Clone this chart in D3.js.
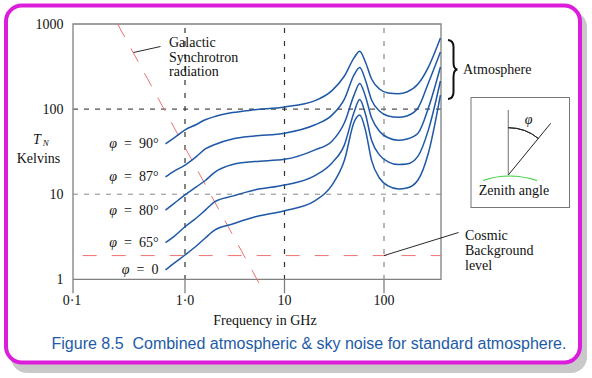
<!DOCTYPE html>
<html>
<head>
<meta charset="utf-8">
<script src="https://cdn.jsdelivr.net/npm/d3@7"></script>
<style>
  html, body { margin: 0; padding: 0; background: #fff; }
  svg { display: block; }
  .serif { font-family: "Liberation Serif", "Times New Roman", serif; font-size: 14px; fill: #111; }
</style>
</head>
<body>
<svg id="chart" width="592" height="378"></svg>
<script>
// frequencies (GHz) the curves were read at
var freqs = [0.67, 0.8, 1, 1.3, 1.6, 2, 3, 5, 10, 20, 30, 40, 50, 57, 65, 75, 90, 110, 140, 170, 220, 280, 370];

// sky noise temperature (K) for each zenith angle
var t90 = [39, 46, 57, 66, 75, 82, 91, 98, 106, 125, 165, 245, 400, 480, 358, 226, 172, 155, 152, 159, 197, 312, 685];
var t87 = [16, 18.7, 22, 27.7, 34, 38.4, 44.5, 48.3, 52, 65, 85, 131, 252, 308, 220, 128, 95, 83, 80, 83, 103, 203, 469];
var t80 = [6.5, 7.8, 9.8, 12.2, 14.5, 18.2, 22.3, 24.2, 25.7, 33, 42, 69, 146, 200, 142, 79, 55, 46, 43, 44.5, 52, 103, 312];
var t65 = [2.7, 3.2, 4.15, 5.25, 6.5, 8.2, 9.5, 11.2, 12.8, 16.4, 23.3, 38, 92, 130, 88, 43, 29, 24, 22.3, 22.6, 28, 57, 214];
var t0 = [1.29, 1.55, 1.93, 2.46, 3.06, 3.8, 4.47, 5.4, 6.4, 8.3, 12.8, 25, 70, 85, 57, 25, 15.5, 12.5, 11.5, 11.8, 14.7, 30.5, 146];

var series = [t90, t87, t80, t65, t0];
var seriesLabels = ['φ  =  90°', 'φ  =  87°', 'φ  =  80°', 'φ  =  65°', 'φ  =  0'];

var xTicks = [0.1, 1, 10, 100];
var xTickLabels = ['0·1', '1·0', '10', '100'];
var yTicks = [1, 10, 100, 1000];

// galactic synchrotron line end points [GHz, K]
var galactic = [[0.25, 1000], [5.9, 0.79]];
// cosmic background level (K) and its frequency span
var cosmicLevel = 1.9;
var cosmicSpan = [0.122, 375];

var svg = d3.select('#chart');

// frame with shadow
svg.append('rect')
  .attr('x', 11).attr('y', 11)
  .attr('width', 576).attr('height', 362)
  .attr('rx', 16)
  .attr('fill', '#c9c9c9');
svg.append('rect')
  .attr('x', 6).attr('y', 5.5)
  .attr('width', 574).attr('height', 357)
  .attr('rx', 16)
  .attr('fill', '#fff')
  .attr('stroke', '#dc1edc')
  .attr('stroke-width', 4);

// the original axis is not quite uniform below 1 GHz, so piecewise log
var x = d3.scaleLog()
  .domain([0.1, 1, 100, 375])
  .range([73, 185, 384, 441]);

var y = d3.scaleLog()
  .domain([1, 1000])
  .range([279.3, 24]);

var plot = svg.append('g');

// grid lines
plot.selectAll('.hgrid')
  .data([10, 100])
  .enter()
  .append('line')
  .attr('x1', x.range()[0]).attr('x2', x.range()[3])
  .attr('y1', function(d){ return y(d); })
  .attr('y2', function(d){ return y(d); })
  .attr('stroke', function(d){ return d === 100 ? '#222' : '#888'; })
  .attr('stroke-width', 1)
  .attr('stroke-dasharray', '5,6');

plot.selectAll('.vgrid')
  .data([1, 10, 100])
  .enter()
  .append('line')
  .attr('x1', function(d){ return x(d); })
  .attr('x2', function(d){ return x(d); })
  .attr('y1', y(1000) + 4).attr('y2', y(1))
  .attr('stroke', function(d){ return d === 100 ? '#888' : '#333'; })
  .attr('stroke-width', 1.2)
  .attr('stroke-dasharray', '5,8');

// axes box
plot.append('path')
  .attr('d', 'M' + x(0.1) + ',' + (y(1) + 14) + 'V' + y(1000) + 'H' + x(375) + 'V' + y(1) + 'H' + x(0.1))
  .attr('fill', 'none')
  .attr('stroke', '#808080')
  .attr('stroke-width', 1.3);

plot.selectAll('.xtick')
  .data(xTicks.slice(1))
  .enter()
  .append('line')
  .attr('x1', function(d){ return x(d); })
  .attr('x2', function(d){ return x(d); })
  .attr('y1', y(1)).attr('y2', y(1) + 14)
  .attr('stroke', '#808080')
  .attr('stroke-width', 1.3);

plot.selectAll('.xlabel')
  .data(xTicks)
  .enter()
  .append('text')
  .attr('class', 'serif')
  .attr('x', function(d){ return x(d) - (d === 0.1 ? 1 : 0); })
  .attr('y', 305)
  .attr('text-anchor', 'middle')
  .text(function(d, i){ return xTickLabels[i]; });

plot.selectAll('.ylabel')
  .data(yTicks)
  .enter()
  .append('text')
  .attr('class', 'serif')
  .attr('x', 63.5)
  .attr('y', function(d){ return y(d) + 5; })
  .attr('text-anchor', 'end')
  .text(function(d){ return d; });

// red dashed reference lines
plot.append('line')
  .attr('x1', x(galactic[0][0])).attr('y1', y(galactic[0][1]))
  .attr('x2', x(galactic[1][0])).attr('y2', y(galactic[1][1]))
  .attr('stroke', '#f07272')
  .attr('stroke-width', 1)
  .attr('stroke-dasharray', '15,13');

plot.append('line')
  .attr('x1', x(cosmicSpan[0])).attr('x2', x(cosmicSpan[1]))
  .attr('y1', y(cosmicLevel)).attr('y2', y(cosmicLevel))
  .attr('stroke', '#f07272')
  .attr('stroke-width', 1)
  .attr('stroke-dasharray', '14,15');

// sky noise curves
var line = d3.line()
  .x(function(d){ return x(d[0]); })
  .y(function(d){ return y(d[1]); })
  .curve(d3.curveMonotoneX);

plot.selectAll('.curve')
  .data(series)
  .enter()
  .append('path')
  .attr('d', function(s){ return line(s.map(function(v, i){ return [freqs[i], v]; })); })
  .attr('fill', 'none')
  .attr('stroke', '#1f58a6')
  .attr('stroke-width', 1.5);

plot.selectAll('.curvelabel')
  .data(series)
  .enter()
  .append('text')
  .attr('class', 'serif')
  .attr('x', x(freqs[0]) - 7)
  .attr('y', function(s){ return y(s[0]) + 4.5; })
  .attr('text-anchor', 'end')
  .style('white-space', 'pre')
  .html(function(s, i){
    return '<tspan font-style="italic">φ</tspan>' + seriesLabels[i].slice(1);
  });

// axis titles
svg.append('text')
  .attr('class', 'serif')
  .attr('x', 265).attr('y', 325)
  .attr('text-anchor', 'middle')
  .text('Frequency in GHz');

var tn = svg.append('text')
  .attr('class', 'serif')
  .attr('x', 33).attr('y', 144);
tn.append('tspan').attr('font-style', 'italic').text('T');
tn.append('tspan').attr('font-style', 'italic').attr('font-size', '9px').attr('dx', 2).attr('dy', 1.5).text('N');

svg.append('text')
  .attr('class', 'serif')
  .attr('x', 38.5).attr('y', 163)
  .attr('text-anchor', 'middle')
  .text('Kelvins');

// annotations
function multiline(lines, x0, y0, dy) {
  var t = svg.append('text').attr('class', 'serif');
  lines.forEach(function(l, i){
    t.append('tspan').attr('x', x0).attr('y', y0 + i * dy).text(l);
  });
}

multiline(['Galactic', 'Synchrotron', 'radiation'], 169, 47, 14.5);
svg.append('line')
  .attr('x1', 133.5).attr('y1', 52.5)
  .attr('x2', 160.5).attr('y2', 46.5)
  .attr('stroke', '#111').attr('stroke-width', 0.9);

multiline(['Cosmic', 'Background', 'level'], 465, 240, 15);
svg.append('line')
  .attr('x1', x(100)).attr('y1', y(cosmicLevel))
  .attr('x2', 458.5).attr('y2', 232.5)
  .attr('stroke', '#111').attr('stroke-width', 0.9);

svg.append('text')
  .attr('class', 'serif')
  .attr('x', 463).attr('y', 74)
  .text('Atmosphere');

svg.append('path')
  .attr('d', 'M448,40 Q453.5,40.5 453.5,47 L453.5,62 Q453.5,69.5 457.5,69.5 Q453.5,69.5 453.5,77 L453.5,92 Q453.5,98.5 448,99')
  .attr('fill', 'none')
  .attr('stroke', '#111')
  .attr('stroke-width', 2);

// zenith angle inset
var inset = svg.append('g');
inset.append('rect')
  .attr('x', 471).attr('y', 97.5)
  .attr('width', 98.5).attr('height', 110)
  .attr('fill', '#fff')
  .attr('stroke', '#777')
  .attr('stroke-width', 1);

var cx = 508.3, cy = 175;
inset.append('line')
  .attr('x1', cx).attr('y1', 110).attr('x2', cx).attr('y2', cy)
  .attr('stroke', '#888').attr('stroke-width', 1.2);
inset.append('line')
  .attr('x1', cx).attr('y1', cy).attr('x2', 550.7).attr('y2', 123.3)
  .attr('stroke', '#222').attr('stroke-width', 1);
inset.append('path')
  .attr('d', d3.arc()({innerRadius: 47.3, outerRadius: 47.3, startAngle: 0, endAngle: 0.69}))
  .attr('transform', 'translate(' + cx + ',' + cy + ')')
  .attr('fill', 'none')
  .attr('stroke', '#222').attr('stroke-width', 1);
inset.append('path')
  .attr('d', 'M483,180.5 Q509,171.5 537,180.5')
  .attr('fill', 'none')
  .attr('stroke', '#3ccf3c').attr('stroke-width', 1.2);
inset.append('text')
  .attr('class', 'serif')
  .attr('x', 528.5).attr('y', 124)
  .attr('text-anchor', 'middle')
  .attr('font-style', 'italic')
  .text('φ');
inset.append('text')
  .attr('class', 'serif')
  .attr('x', 514).attr('y', 195)
  .attr('text-anchor', 'middle')
  .text('Zenith angle');

// caption
svg.append('text')
  .attr('x', 51.5).attr('y', 348.5)
  .attr('font-family', '"Liberation Sans", Arial, sans-serif')
  .attr('font-size', '16px')
  .attr('fill', '#1e5ba6')
  .style('white-space', 'pre')
  .text('Figure 8.5  Combined atmospheric & sky noise for standard atmosphere.');
</script>
</body>
</html>
